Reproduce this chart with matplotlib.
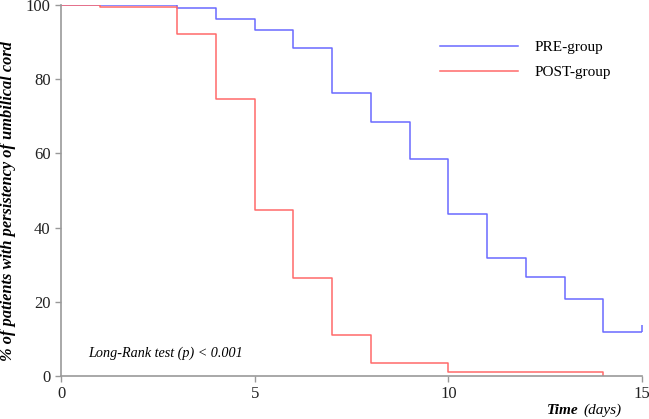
import matplotlib
matplotlib.use("Agg")
import matplotlib.pyplot as plt

pre_days = [0, 3, 4, 5, 6, 7, 8, 9, 10, 11, 12, 13, 14, 15]
pre_surv = [100, 99.2, 96.2, 93.3, 88.3, 76.4, 68.5, 58.6, 43.7, 31.7, 26.8, 20.8, 11.9, 11.9]
post_days = [0, 1, 3, 4, 5, 6, 7, 8, 10, 14]
post_surv = [100, 99.4, 92.1, 74.6, 44.7, 26.4, 11.0, 3.6, 1.0, 0]
x_ticks = [0, 5, 10, 15]
y_ticks = [0, 20, 40, 60, 80, 100]

plt.rcParams['font.family'] = ['Liberation Serif', 'DejaVu Serif']
W, H = 649, 419
fig = plt.figure(figsize=(W/100, H/100), dpi=100)
ax = fig.add_axes([61/W, (H-376)/H, (642-61)/W, (376-5)/H])

blue = '#6a6aff'
red = '#ff6a6a'
ax.step(pre_days, pre_surv, where='post', color=blue, lw=1.1, label='PRE-group')
ax.plot([pre_days[-1]], [pre_surv[-1]], marker=2, color=blue, ms=5, mew=1.1)
ax.step(post_days, post_surv, where='post', color=red, lw=1.1, label='POST-group')

ax.set_xlim(0, 15)
ax.set_ylim(0, 100)
ax.set_xticks(x_ticks)
ax.set_yticks(y_ticks)
for s in ['top', 'right']:
    ax.spines[s].set_visible(False)
for s in ['left', 'bottom']:
    ax.spines[s].set_color('#999999')
    ax.spines[s].set_linewidth(1.2)
ax.tick_params(axis='both', colors='#999999', labelcolor='#222222', labelsize=12, length=4, width=1)

leg = ax.legend(loc='upper right', bbox_to_anchor=(0.97, 0.942), frameon=False, fontsize=11,
                handlelength=5.1, handletextpad=1.1, labelspacing=0.75)

ax.text(0.7, 6.0, 'Long-Rank test (p) < 0.001', style='italic', fontsize=10.2, va='center', ha='left')

fig.text(8/W, 1 - 201/H, '% of patients with persistency of umbilical cord', rotation=90,
         fontsize=11.8, fontweight='bold', style='italic', ha='center', va='center')
fig.text(547/W, 1 - 410/H, 'Time', fontsize=11, fontweight='bold', style='italic', ha='left', va='center')
fig.text(583/W, 1 - 410/H, '(days)', fontsize=11, style='italic', ha='left', va='center')

fig.savefig('out.png', dpi=100)
